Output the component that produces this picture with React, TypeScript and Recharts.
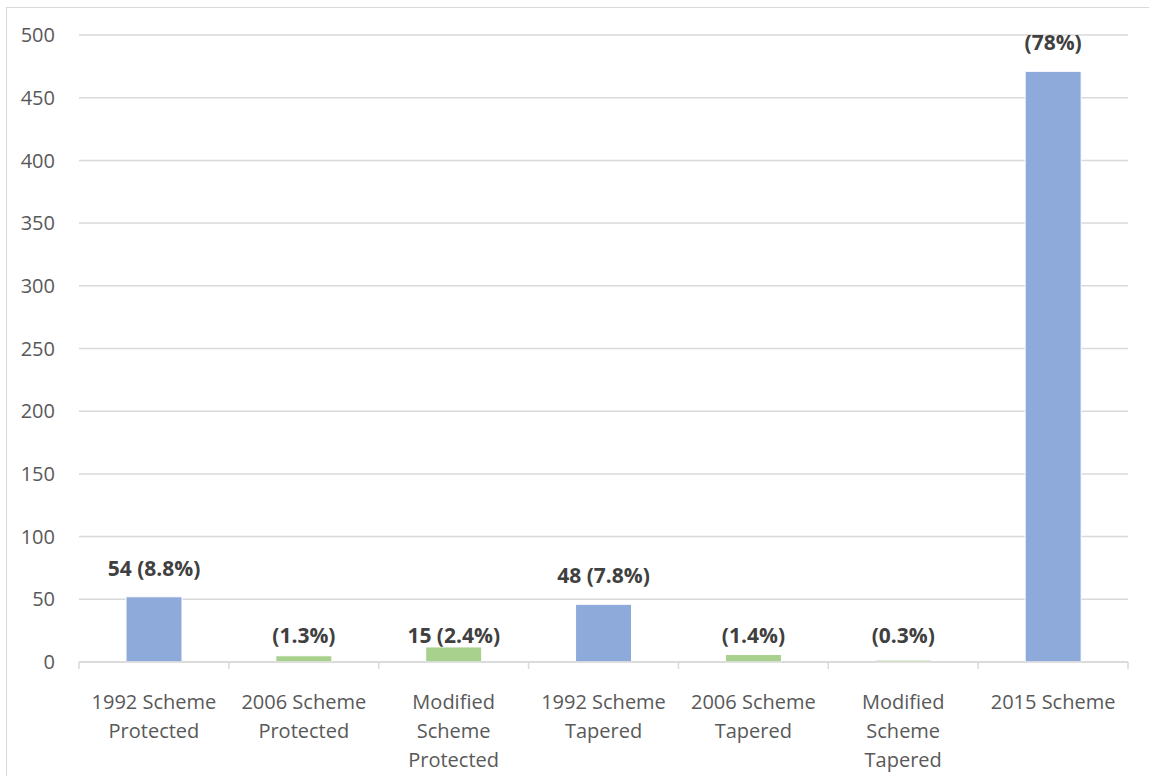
import React from "react";
import { Bar, BarChart, CartesianGrid, Cell, LabelList, XAxis, YAxis } from "recharts";

const categories = [
  "1992 Scheme Protected",
  "2006 Scheme Protected",
  "Modified Scheme Protected",
  "1992 Scheme Tapered",
  "2006 Scheme Tapered",
  "Modified Scheme Tapered",
  "2015 Scheme",
];
const members = [52, 5, 12, 46, 6, 1.5, 471];
const barLabels = ["54 (8.8%)", "(1.3%)", "15 (2.4%)", "48 (7.8%)", "(1.4%)", "(0.3%)", "(78%)"];
const groups = ["blue", "green", "green", "blue", "green", "green", "blue"];
const yTicks = [0, 50, 100, 150, 200, 250, 300, 350, 400, 450, 500];

const data = categories.map((name, i) => ({ name, value: members[i], label: barLabels[i], group: groups[i] }));

const W = 1149;
const H = 776;
const LEFT = 79;
const RIGHT = 21;
const TOP = 35;
const XH = 114;
const PLOT_W = W - LEFT - RIGHT;
const PLOT_BOTTOM = H - XH;
const BAND = PLOT_W / categories.length;
const FONT = "'Open Sans', 'Noto Sans', sans-serif";
const colors: Record<string, string> = { blue: "#8eaadb", green: "#a9d18e" };

function wrap(text: string, max = 12) {
  const lines: string[] = [];
  let cur = "";
  for (const w of text.split(" ")) {
    const next = cur ? cur + " " + w : w;
    if (next.length > max && cur) {
      lines.push(cur);
      cur = w;
    } else cur = next;
  }
  if (cur) lines.push(cur);
  return lines;
}

function CategoryTick(props: any) {
  const { x, y, payload, index } = props;
  const lines = wrap(String(payload.value));
  const left = x - BAND / 2;
  return (
    <g>
      <line x1={left} x2={left} y1={y} y2={y + 7} stroke="#d9d9d9" strokeWidth={1.5} />
      {index === categories.length - 1 && (
        <line x1={x + BAND / 2} x2={x + BAND / 2} y1={y} y2={y + 7} stroke="#d9d9d9" strokeWidth={1.5} />
      )}
      <text x={x} y={y + 47} textAnchor="middle" fill="#595959" fontSize={20} fontFamily={FONT}>
        {lines.map((l, i) => (
          <tspan key={i} x={x} dy={i === 0 ? 0 : 29}>
            {l}
          </tspan>
        ))}
      </text>
    </g>
  );
}

function BarLabel(props: any) {
  const { x, y, width, height, value } = props;
  const cy = height > 30 ? y - 29 : PLOT_BOTTOM - 27;
  return (
    <text
      x={x + width / 2}
      y={cy}
      textAnchor="middle"
      dominantBaseline="central"
      fill="#404040"
      fontSize={21}
      fontWeight="bold"
      fontFamily={FONT}
    >
      {value}
    </text>
  );
}

export default function App() {
  return (
    <div style={{ position: "absolute", left: 0, top: 0, width: W, height: H, overflow: "hidden", background: "#fff" }}>
      <div
        style={{
          position: "absolute",
          left: 6,
          top: 7,
          width: W + 40,
          height: H + 40,
          border: "1.5px solid #d9d9d9",
          boxSizing: "border-box",
        }}
      />
      <div style={{ position: "absolute", left: 0, top: 0 }}>
        <BarChart width={W} height={H} data={data} margin={{ top: TOP, right: RIGHT, bottom: 0, left: 0 }}>
          <CartesianGrid vertical={false} stroke="#d9d9d9" strokeWidth={1.5} />
          <YAxis
            width={LEFT}
            domain={[0, 500]}
            ticks={yTicks}
            axisLine={false}
            tickLine={false}
            tickSize={0}
            tickMargin={24}
            tick={{ fill: "#595959", fontSize: 20, fontFamily: FONT }}
          />
          <XAxis
            dataKey="name"
            height={XH}
            interval={0}
            tickLine={false}
            tickSize={0}
            tickMargin={0}
            axisLine={{ stroke: "#d9d9d9", strokeWidth: 1.5 }}
            tick={<CategoryTick />}
          />
          <Bar dataKey="value" barSize={56} stroke="#ffffff" strokeWidth={1} isAnimationActive={false}>
            {data.map((d, i) => (
              <Cell key={i} fill={colors[d.group]} />
            ))}
            <LabelList dataKey="label" content={<BarLabel />} />
          </Bar>
        </BarChart>
      </div>
    </div>
  );
}
